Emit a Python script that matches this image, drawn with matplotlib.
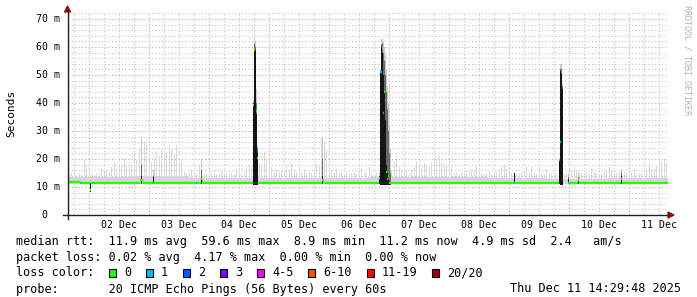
import numpy as np
import matplotlib
matplotlib.use("Agg")
import matplotlib.pyplot as plt
from matplotlib import transforms
from matplotlib.patches import Rectangle, Polygon
from matplotlib.lines import Line2D

# time axis: hours since 01 Dec 15:36, first midnight at 8.4 h, 240 h shown
first_midnight = 8.4
day_labels = ["02 Dec", "03 Dec", "04 Dec", "05 Dec", "06 Dec",
              "07 Dec", "08 Dec", "09 Dec", "10 Dec", "11 Dec"]

# light smoke, upper edge per hour (ms)
smoke_top = [
    14.5, 15, 17, 14.3, 15, 14.5, 19.6, 18, 16, 14.5, 14.3, 15, 14.5, 16.5, 15.5, 16, 15.5, 17, 19, 16.5, 17.5, 18, 20.5, 18,
    19, 18, 21.4, 19.5, 24, 28, 26, 25.6, 19.5, 19, 21, 23, 21, 23.5, 21, 22.5, 25, 24, 21.5, 25, 18.5, 19.5, 15.5, 15,
    14.5, 16.5, 15, 14.5, 18, 19.6, 15, 14.5, 14.3, 15.5, 16, 14.5, 14.5, 15.5, 15, 15.5, 14.5, 15, 14.5, 16.5, 15, 14.5, 15.5, 17,
    18, 17, 14, 14, 18.5, 18, 22.5, 19.5, 18.5, 17, 15.5, 16.5, 15.5, 16, 15, 17.5, 16.5, 18.5, 16, 15.5, 15, 15.5, 16.5, 15,
    15.5, 15, 16, 18.5, 18, 28, 26, 23, 16.5, 16, 15.5, 16.5, 15, 15.5, 14.5, 15, 14.5, 15, 15.5, 14.5, 15, 16.5, 15.5, 15,
    17, 15, 14.5, 15, 14.5, 14, 14, 14, 15, 16, 19, 21.5, 17, 16, 15.5, 16, 15, 16.5, 17, 19, 17.5, 16.5, 18.5, 17.5,
    17, 18.5, 20, 20.5, 21, 19, 18, 17.5, 18.5, 17, 15.5, 15, 14.5, 15.5, 15, 16, 15.5, 16, 16.5, 17.5, 16, 15, 14.5, 15,
    15.5, 14.5, 15, 15.5, 16, 17.5, 18, 16.5, 16, 15, 15, 14.5, 14.5, 15, 15.5, 17, 15, 17, 15, 14.5, 14.5, 15, 14.5, 16.5,
    15, 14.5, 15, 14.5, 14, 14, 14.5, 15, 15.5, 16, 17, 16, 15.5, 15, 15, 15.5, 14.5, 16.5, 15.5, 15, 14.5, 15, 15.5, 16,
    17, 16, 15.5, 15, 15.5, 16.5, 15.5, 15, 15, 15.5, 16.5, 15, 15, 15.5, 15, 16.5, 18.5, 16, 16.5, 17.5, 20.5, 19, 20, 18.5,
]
# dense smoke band per day (upper edge, ms)
band_top = [13.5, 14.0, 13.3, 13.2, 13.1, 13.5, 13.6, 13.1, 13.0, 13.3]
smoke_floor = 11.0

# dark smoke at the spikes: time, lower edge, core top, mid top, light top
ev_t = [8.6, 29.0, 33.9, 53.3,
        73.8, 74.2, 74.6, 75.0, 75.4,
        101.6,
        124.4, 124.8, 125.2, 125.6, 126.0, 126.4, 126.8, 127.2, 127.6, 128.0, 128.4, 128.8,
        178.3,
        196.4, 196.8, 197.2, 197.6,
        200.1, 203.9, 221.2]
ev_lo = [8.3, 11.0, 11.0, 11.0,
         10.8, 10.8, 10.8, 10.8, 10.8,
         11.0,
         11.0, 10.8, 10.8, 10.8, 10.8, 10.8, 10.8, 10.8, 10.8, 10.8, 10.8, 10.8,
         11.0,
         11.0, 10.8, 10.8, 10.8,
         11.0, 11.0, 11.0]
ev_core = [11.5, 14.0, 13.5, 13.5,
           40.0, 59.0, 59.0, 36.0, 22.0,
           14.0,
           14.0, 51.0, 60.0, 58.0, 50.0, 44.0, 34.0, 18.0, 15.0, 13.0, 12.0, 11.0,
           15.0,
           19.6, 51.5, 51.5, 45.0,
           13.0, 12.8, 14.0]
ev_mid = [11.5, 18.0, 14.0, 16.0,
          40.0, 61.0, 60.0, 40.0, 24.0,
          20.0,
          14.0, 51.0, 61.0, 61.0, 58.0, 55.0, 50.0, 44.0, 38.0, 30.0, 22.0, 15.0,
          15.0,
          19.6, 52.0, 52.0, 46.0,
          13.5, 13.5, 15.0]
ev_top = [13.0, 27.0, 16.0, 20.0,
          41.0, 63.5, 62.0, 45.0, 25.0,
          28.0,
          15.0, 52.0, 63.0, 63.0, 62.0, 60.0, 57.0, 52.0, 46.0, 40.0, 32.0, 24.0,
          15.5,
          20.0, 54.0, 54.0, 47.0,
          14.5, 15.0, 16.0]

# median rtt segments: start hour, value (ms), loss class
med_t = [0, 4.6, 5.0, 8.6, 9.2, 28.8, 29.4, 30.0, 33.8, 34.2, 51.0, 51.4, 53.0, 53.6, 54.0,
         73.8, 74.2, 74.6, 75.0, 75.4, 75.8, 76.0,
         101.4, 102.0, 102.4,
         124.4, 124.8, 125.4, 125.8, 126.2, 126.6, 127.0, 127.4, 127.8, 128.2,
         178.2, 178.6,
         196.4, 196.8, 197.2, 197.6, 199.9, 200.3,
         203.8, 204.2, 221.0, 221.4]
med_v = [11.8, 11.5, 11.5, 8.9, 11.5, 12.6, 12.2, 11.5, 11.5, 11.5, 11.5, 11.5, 12.7, 12.1, 11.5,
         39.3, 59.0, np.nan, 37.0, 20.4, np.nan, 11.5,
         12.5, 12.0, 11.5,
         13.3, 51.0, 59.6, 36.4, 44.0, 41.0, 15.4, 13.0, 14.0, 11.5,
         11.5, 11.5,
         19.6, 26.2, 51.2, np.nan, 11.5, 11.5,
         12.5, 11.5, 12.7, 11.4]
med_loss = [0, 1, 0, 0, 0, 0, 0, 0, 1, 0, 1, 0, 0, 0, 0,
            0, 0, 0, 0, 0, 0, 0,
            0, 0, 0,
            0, 1, 1, 1, 0, 0, 0, 0, 0, 0,
            1, 0,
            0, 1, 1, 0, 1, 0,
            0, 0, 0, 0]

loss_labels = ["0", "1", "2", "3", "4-5", "6-10", "11-19", "20/20"]
loss_colors = ["#26ff00", "#00b8ff", "#0059ff", "#7e00ff",
               "#ff00ff", "#ff5500", "#ff0000", "#a10000"]

W, H = 697, 297
mono = "DejaVu Sans Mono"

fig = plt.figure(figsize=(W / 100, H / 100), dpi=100)
fig.patch.set_facecolor("white")
ax = fig.add_axes([68 / W, 1 - 215 / H, 600 / W, (215 - 12.5) / H])
ax.set_xlim(0, 240)
ax.set_ylim(0, 72.3)
for s in ax.spines.values():
    s.set_visible(False)

# grid
ax.set_xticks(np.arange(first_midnight, 240, 24))
ax.set_xticks(np.arange(first_midnight - 6, 240, 6), minor=True)
ax.set_yticks(np.arange(0, 71, 10))
ax.set_yticks(np.arange(0, 72.3, 2), minor=True)
ax.tick_params(which="both", length=0, labelbottom=False, labelleft=False)
ax.grid(which="minor", color="#c4c4c4", linestyle=(0, (1, 2)), linewidth=0.8)
ax.grid(which="major", color="#e49a9a", linestyle=(0, (1, 2)), linewidth=0.8)
ax.set_axisbelow(True)

# light smoke
hours = np.arange(len(smoke_top))
top = np.array(smoke_top)
ax.bar(hours + 0.25, top - smoke_floor, bottom=smoke_floor, width=0.5, align="edge",
       color="#d9d9d9", linewidth=0, zorder=2)
days = np.arange(len(band_top)) * 24
ax.bar(days, np.array(band_top) - smoke_floor, bottom=smoke_floor, width=24, align="edge",
       color="#d6d6d6", linewidth=0, zorder=2)

# smoke at spikes
et = np.array(ev_t)
lo = np.array(ev_lo)
ax.bar(et, np.array(ev_top) - lo, bottom=lo, width=0.42, align="edge",
       color="#c8c8c8", linewidth=0, zorder=3)
ax.bar(et, np.array(ev_mid) - lo, bottom=lo, width=0.42, align="edge",
       color="#6a6a6a", linewidth=0, zorder=3)
ax.bar(et, np.array(ev_core) - lo, bottom=lo, width=0.42, align="edge",
       color="#151515", linewidth=0, zorder=3)

# median rtt coloured by loss
ends = med_t[1:] + [240]
for t0, t1, v, c in zip(med_t, ends, med_v, med_loss):
    if np.isnan(v):
        continue
    ax.hlines(v, t0, t1, colors=loss_colors[c], linewidth=1.7, zorder=4)

# axes lines and arrows (pixel coords)
def fx(x):
    return x / W

def fy(y):
    return 1 - y / H

fig.add_artist(Line2D([fx(63), fx(669)], [fy(215), fy(215)], color="#202020", lw=1))
fig.add_artist(Line2D([fx(67.5), fx(67.5)], [fy(219), fy(10)], color="#202020", lw=1))
fig.add_artist(Polygon([(fx(668), fy(212)), (fx(674), fy(215)), (fx(668), fy(218))],
                       closed=True, color="#8b1414"))
fig.add_artist(Polygon([(fx(64.5), fy(12)), (fx(67.5), fy(6)), (fx(70.5), fy(12))],
                       closed=True, color="#8b1414"))

# tick labels
ytr = transforms.blended_transform_factory(fig.transFigure, ax.transData)
for v in range(10, 71, 10):
    fig.text(fx(60), v, "%d m" % v, transform=ytr, ha="right", va="center",
             family=mono, fontsize=7.1)
fig.text(fx(47.5), 0, "0", transform=ytr, ha="right", va="center", family=mono, fontsize=7.1)
xtr = transforms.blended_transform_factory(ax.transData, fig.transFigure)
for i, lab in enumerate(day_labels):
    fig.text(first_midnight + 12 + 24 * i, fy(225), lab, transform=xtr, ha="center",
             va="center", family=mono, fontsize=7.1)

fig.text(fx(11), fy(113), "Seconds", rotation=90, ha="center", va="center",
         family=mono, fontsize=8)
fig.text(fx(687), fy(60), "RRDTOOL / TOBI OETIKER", rotation=270, ha="center",
         va="center", family=mono, fontsize=6, color="#b4b4b4")

# legend
fs = 8.5
rows = [241, 257, 273, 289]
fig.text(fx(16), fy(rows[0]), "median rtt:  11.9 ms avg  59.6 ms max  8.9 ms min  11.2 ms now  4.9 ms sd  2.4   am/s",
         family=mono, fontsize=fs, va="center")
fig.text(fx(16), fy(rows[1]), "packet loss: 0.02 % avg  4.17 % max  0.00 % min  0.00 % now",
         family=mono, fontsize=fs, va="center")
fig.text(fx(16), fy(rows[2]), "loss color:", family=mono, fontsize=fs, va="center")
bx = 108.7
for lab, col in zip(loss_labels, loss_colors):
    fig.add_artist(Rectangle((fx(bx), fy(rows[2] + 4)), 7 / W, 8 / H, facecolor=col,
                             edgecolor="black", linewidth=0.8))
    fig.text(fx(bx + 15.3), fy(rows[2]), lab, family=mono, fontsize=fs, va="center")
    bx = bx + 15.3 + len(lab) * 7.1 + 14.7
fig.text(fx(16), fy(rows[3]), "probe:       20 ICMP Echo Pings (56 Bytes) every 60s",
         family=mono, fontsize=fs, va="center")
fig.text(fx(681), fy(rows[3]), "Thu Dec 11 14:29:48 2025", family=mono, fontsize=fs,
         va="center", ha="right")

fig.savefig("out.png", dpi=100, facecolor="white")
